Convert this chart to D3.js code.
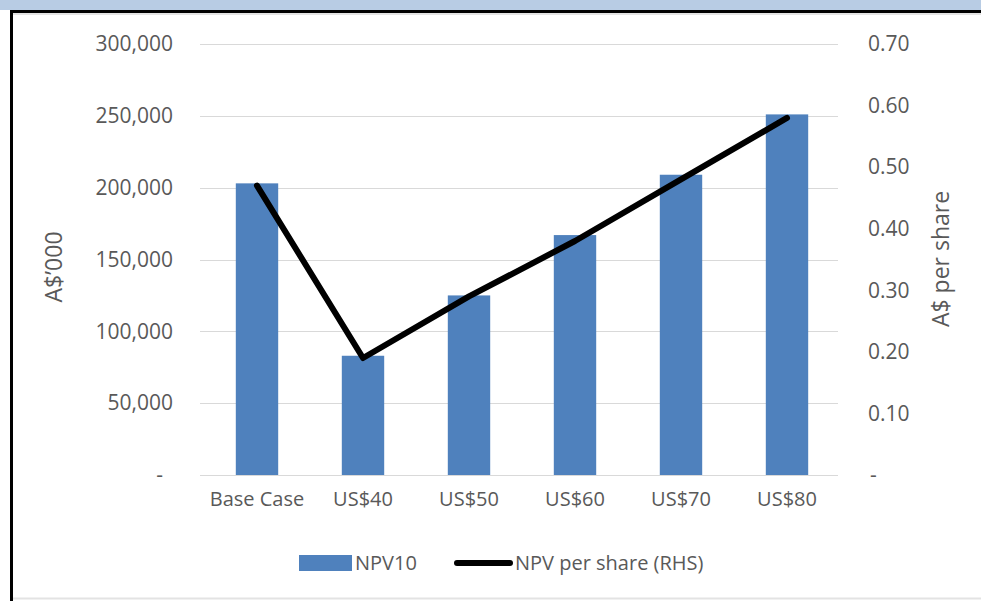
<!DOCTYPE html>
<html><head><meta charset="utf-8">
<script src="https://cdn.jsdelivr.net/npm/d3@7"></script>
<style>body{margin:0;background:#fff;}svg{display:block;}</style>
</head><body>
<svg id="c" width="981" height="601"></svg>
<script>
const categories = ["Base Case","US$40","US$50","US$60","US$70","US$80"];
const npv10 = [203000, 83000, 125000, 167000, 209000, 251000];
const npvPerShare = [0.47, 0.19, 0.29, 0.38, 0.48, 0.58];
const leftTicks = [0, 50000, 100000, 150000, 200000, 250000, 300000];
const rightTicks = [0, 0.1, 0.2, 0.3, 0.4, 0.5, 0.6, 0.7];
const seriesNames = ["NPV10", "NPV per share (RHS)"];
const leftTitle = "A$’000";
const rightTitle = "A$ per share";

const svg = d3.select("#c");
const font = "'Open Sans', sans-serif";
const grey = "#595959";

// frame
svg.append("rect").attr("x",0).attr("y",0).attr("width",981).attr("height",10).attr("fill","#b8cce4");
svg.append("line").attr("x1",10).attr("x2",981).attr("y1",11.5).attr("y2",11.5).attr("stroke","#000").attr("stroke-width",3);
svg.append("line").attr("x1",11.5).attr("x2",11.5).attr("y1",10).attr("y2",601).attr("stroke","#000").attr("stroke-width",3);
svg.append("line").attr("x1",13).attr("x2",981).attr("y1",14).attr("y2",14).attr("stroke","#e3e3e3").attr("stroke-width",2);
svg.append("line").attr("x1",13).attr("x2",981).attr("y1",598.5).attr("y2",598.5).attr("stroke","#e3e3e3").attr("stroke-width",2);

const x = d3.scaleBand().domain(categories).range([204, 840]).paddingInner(0.6).paddingOuter(0.3);
const yL = d3.scaleLinear().domain([0, 300000]).range([475, 44]);
const yR = d3.scaleLinear().domain([0, 0.7]).range([475, 44]);

// gridlines
svg.append("g").selectAll("line").data(leftTicks).join("line")
  .attr("x1", 200).attr("x2", 838)
  .attr("y1", d => Math.round(yL(d)) + 0.5).attr("y2", d => Math.round(yL(d)) + 0.5)
  .attr("stroke", "#d9d9d9").attr("stroke-width", 1);

// left axis
const fmtL = d => d === 0 ? "-" : d3.format(",")(d);
const gL = svg.append("g").attr("transform", "translate(173,0)")
  .call(d3.axisLeft(yL).tickValues(leftTicks).tickFormat(fmtL).tickSize(0).tickPadding(0));
gL.select(".domain").remove();
gL.selectAll("text").attr("font-family", font).attr("font-size", 21).attr("fill", grey)
  .attr("dx", d => d === 0 ? -10 : 0);

// right axis
const fmtR = d => d === 0 ? "-" : d3.format(".2f")(d);
const gR = svg.append("g").attr("transform", "translate(868,0)")
  .call(d3.axisRight(yR).tickValues(rightTicks).tickFormat(fmtR).tickSize(0).tickPadding(0));
gR.select(".domain").remove();
gR.selectAll("text").attr("font-family", font).attr("font-size", 21).attr("fill", grey)
  .attr("dx", d => d === 0 ? 2 : 0);

// bars
svg.append("g").selectAll("rect").data(categories).join("rect")
  .attr("x", d => x(d)).attr("width", x.bandwidth())
  .attr("y", (d, i) => yL(npv10[i])).attr("height", (d, i) => yL(0) - yL(npv10[i]))
  .attr("fill", "#4f81bd");

// line
const line = d3.line().x((d, i) => x(categories[i]) + x.bandwidth() / 2).y(d => yR(d));
svg.append("path").datum(npvPerShare).attr("d", line)
  .attr("fill", "none").attr("stroke", "#000").attr("stroke-width", 6)
  .attr("stroke-linejoin", "round").attr("stroke-linecap", "round");

// x axis
const gX = svg.append("g").attr("transform", "translate(0,475)")
  .call(d3.axisBottom(x).tickSize(0).tickPadding(0));
gX.select(".domain").attr("stroke", "#d9d9d9").attr("d", "M200,0.5H838");
gX.selectAll("text").attr("font-family", font).attr("font-size", 20).attr("fill", grey)
  .attr("dy", "1.55em");

// axis titles
svg.append("text").attr("transform", "translate(62,267) rotate(-90)")
  .attr("text-anchor", "middle").attr("font-family", font).attr("font-size", 23).attr("fill", grey)
  .text(leftTitle);
svg.append("text").attr("transform", "translate(949,259) rotate(-90)")
  .attr("text-anchor", "middle").attr("font-family", font).attr("font-size", 23).attr("fill", grey)
  .text(rightTitle);

// legend
const lg = svg.append("g");
lg.append("rect").attr("x", 299).attr("y", 555).attr("width", 53).attr("height", 16).attr("fill", "#4f81bd");
lg.append("text").attr("x", 355).attr("y", 570).attr("font-family", font).attr("font-size", 20).attr("fill", grey).text(seriesNames[0]);
lg.append("line").attr("x1", 457).attr("x2", 510).attr("y1", 563).attr("y2", 563)
  .attr("stroke", "#000").attr("stroke-width", 6).attr("stroke-linecap", "round");
lg.append("text").attr("x", 515).attr("y", 570).attr("font-family", font).attr("font-size", 20).attr("fill", grey).text(seriesNames[1]);
</script>
</body></html>
